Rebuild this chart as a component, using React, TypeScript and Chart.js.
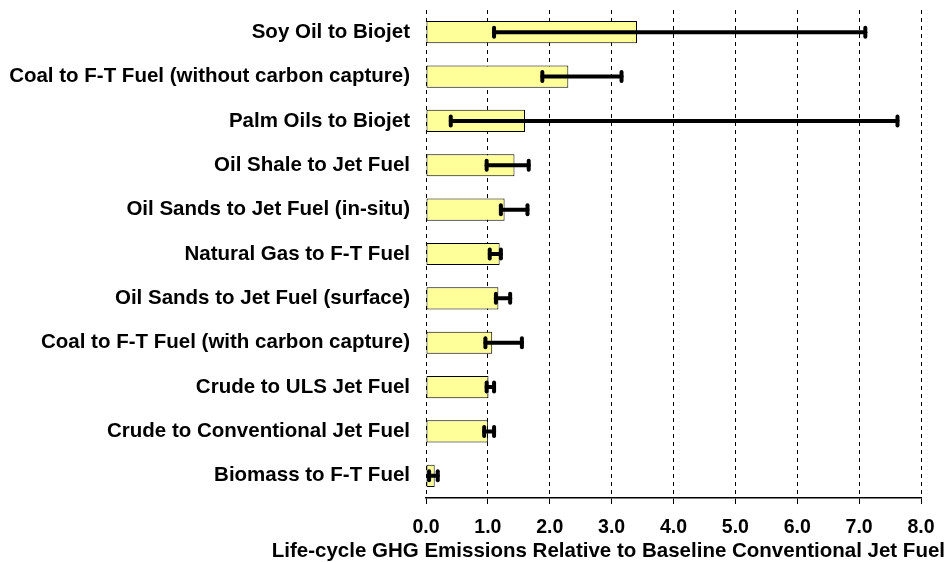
import React, { useEffect, useRef } from "react";
import { Chart, registerables } from "chart.js";

Chart.register(...registerables);

const categories = [
  "Soy Oil to Biojet",
  "Coal to F-T Fuel (without carbon capture)",
  "Palm Oils to Biojet",
  "Oil Shale to Jet Fuel",
  "Oil Sands to Jet Fuel (in-situ)",
  "Natural Gas to F-T Fuel",
  "Oil Sands to Jet Fuel (surface)",
  "Coal to F-T Fuel (with carbon capture)",
  "Crude to ULS Jet Fuel",
  "Crude to Conventional Jet Fuel",
  "Biomass to F-T Fuel",
];
const values = [3.41, 2.3, 1.6, 1.43, 1.27, 1.19, 1.17, 1.07, 1.01, 1.0, 0.14];
const lows = [1.1, 1.88, 0.4, 0.98, 1.21, 1.03, 1.13, 0.96, 0.98, 0.94, 0.05];
const highs = [7.1, 3.16, 7.62, 1.66, 1.64, 1.21, 1.36, 1.55, 1.1, 1.1, 0.19];
const xTicks = [0, 1, 2, 3, 4, 5, 6, 7, 8];
const xTitle = "Life-cycle GHG Emissions Relative to Baseline Conventional Jet Fuel";

const FONT = "'Liberation Sans', Arial, sans-serif";

const errorBarPlugin = {
  id: "errorBars",
  afterDatasetsDraw(chart: any) {
    const xs = chart.scales.x;
    const ys = chart.scales.y;
    const ctx = chart.ctx;
    ctx.save();
    ctx.strokeStyle = "#000";
    ctx.lineCap = "round";
    for (let i = 0; i < categories.length; i++) {
      const y = ys.getPixelForValue(i);
      const x1 = xs.getPixelForValue(lows[i]);
      const x2 = xs.getPixelForValue(highs[i]);
      ctx.lineWidth = 4;
      ctx.beginPath();
      ctx.moveTo(x1, y);
      ctx.lineTo(x2, y);
      ctx.stroke();
      ctx.lineWidth = 4;
      for (const x of [x1, x2]) {
        ctx.beginPath();
        ctx.moveTo(x, y - 4.5);
        ctx.lineTo(x, y + 4.5);
        ctx.stroke();
      }
    }
    ctx.restore();
  },
};

export default function App() {
  const ref = useRef<HTMLCanvasElement | null>(null);
  useEffect(() => {
    if (!ref.current) return;
    const chart = new Chart(ref.current, {
      type: "bar",
      data: {
        labels: categories,
        datasets: [
          {
            data: values,
            backgroundColor: "#FFFF99",
            borderColor: "#000",
            borderWidth: 1,
            borderSkipped: false,
            categoryPercentage: 1,
            barPercentage: 0.5,
          },
        ],
      },
      options: {
        indexAxis: "y",
        animation: false,
        responsive: true,
        maintainAspectRatio: false,
        layout: { padding: { top: 10, right: 7, left: 0, bottom: 0 } },
        plugins: {
          legend: { display: false },
          tooltip: { enabled: false },
          title: {
            display: true,
            text: xTitle,
            position: "bottom",
            align: "end",
            color: "#000",
            font: { family: FONT, size: 20.5, weight: "bold", lineHeight: 1.0 },
            padding: { top: 0, bottom: 0 },
          },
        },
        scales: {
          x: {
            type: "linear",
            min: 0,
            max: 8,
            afterBuildTicks: (s: any) => {
              s.ticks = xTicks.map((v) => ({ value: v }));
            },
            afterFit: (s: any) => {
              s.height = 43.5;
              s.paddingLeft = 0;
              s.paddingRight = 0;
            },
            ticks: {
              color: "#000",
              font: { family: FONT, size: 19.5, weight: "bold" },
              padding: 12,
              callback: (v: any) => Number(v).toFixed(1),
            },
            grid: {
              color: "#000",
              lineWidth: 1,
              drawTicks: true,
              tickLength: 6,
              tickColor: "#000",
              tickBorderDash: [],
            },
            border: { display: true, color: "#000", width: 1.5, dash: [4, 4] },
          },
          y: {
            afterFit: (s: any) => {
              s.width = 426;
              s.paddingTop = 0;
              s.paddingBottom = 0;
            },
            ticks: {
              color: "#000",
              font: { family: FONT, size: 20.5, weight: "bold" },
              padding: 16,
            },
            grid: { display: false, drawTicks: false },
            border: { display: false },
          },
          y2: {
            type: "linear",
            position: "right",
            display: true,
            afterFit: (s: any) => {
              s.width = 24;
              s.paddingTop = 0;
              s.paddingBottom = 0;
            },
            ticks: { display: false },
            grid: { display: false, drawTicks: false },
            border: { display: false },
          },
        },
      },
      plugins: [errorBarPlugin],
    } as any);
    return () => chart.destroy();
  }, []);
  return (
    <div style={{ position: "fixed", left: 0, top: 0, width: 952, height: 562, background: "#fff" }}>
      <canvas ref={ref} />
    </div>
  );
}
